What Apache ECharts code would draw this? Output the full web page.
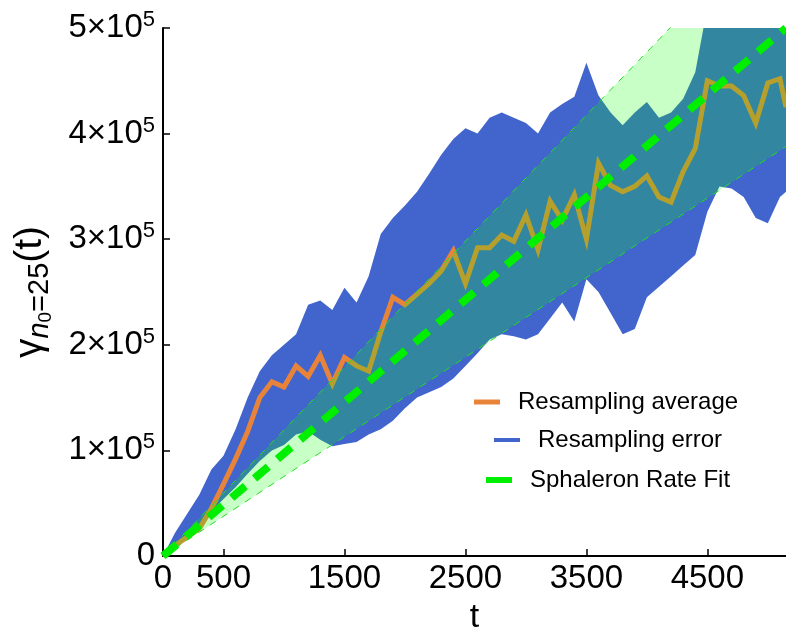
<!DOCTYPE html>
<html>
<head>
<meta charset="utf-8">
<script src="https://cdn.jsdelivr.net/npm/echarts@6/dist/echarts.min.js"></script>
<style>
  html, body { margin: 0; padding: 0; background: #ffffff; }
  #chart { width: 786px; height: 640px; }
</style>
</head>
<body>
<div id="chart"></div>
<script>
// Time samples
const tValues = [0,100,200,300,400,500,600,700,800,900,1000,1100,1200,1300,1400,1500,1600,1700,1800,1900,
  2000,2100,2200,2300,2400,2500,2600,2700,2800,2900,3000,3100,3200,3300,3400,3500,3600,3700,3800,3900,
  4000,4100,4200,4300,4400,4500,4600,4700,4800,4900,5000,5100,5150];

// Resampling average
const avgValues = [0,10000,18000,26000,45000,68000,92000,118000,150000,165000,160000,180000,170000,190000,163000,188000,180000,175000,212000,245000,
  238000,248000,258000,270000,289000,258000,292000,292000,304000,298000,323000,290000,336000,318000,342000,300000,372000,351000,345000,350000,
  360000,340000,335000,364000,386000,450000,445000,445000,436000,410000,448000,452000,425000];

// Resampling error band (upper / lower envelope)
const errUpper = [0,22000,40000,58000,82000,95000,120000,150000,175000,190000,200000,210000,238000,242000,233000,254000,240000,265000,305000,320000,
  332000,345000,362000,380000,395000,405000,400000,415000,420000,415000,410000,400000,420000,428000,435000,467000,436000,420000,408000,420000,
  430000,415000,420000,433000,458000,520000,530000,540000,550000,560000,570000,575000,580000];
const errLower = [0,8000,20000,30000,42000,54000,65000,78000,90000,100000,105000,115000,118000,110000,104000,106000,108000,115000,120000,128000,
  140000,150000,155000,160000,168000,180000,192000,205000,210000,208000,205000,210000,225000,240000,222000,262000,250000,230000,210000,215000,
  245000,255000,265000,275000,285000,326000,350000,348000,340000,320000,315000,340000,345000];

// Linear sphaleron-rate fit and its uncertainty band (end points)
const fitT = [0, 5150];
const fitY = [0, 500000];
const fitUpperY = [0, 614400];
const fitLowerY = [0, 387800];

// Axis ticks
const xTicks = [0, 500, 1500, 2500, 3500, 4500];
const yTicks = [0, 100000, 200000, 300000, 400000, 500000];

const NAME_AVG = 'Resampling average';
const NAME_ERR = 'Resampling error';
const NAME_FIT = 'Sphaleron Rate Fit';

const FONT = '"Liberation Sans", Arial, sans-serif';
const C_AVG = '#e8843a';
const C_ERR = '#4165cd';
const C_FIT = '#00ee00';

const pairs = (xs, ys) => xs.map((x, i) => [x, ys[i]]);

// Filled region between two curves, drawn once as a polygon in data coordinates
function bandSeries(name, xs, lows, highs, fill, z) {
  return {
    name: name,
    type: 'custom',
    coordinateSystem: 'cartesian2d',
    silent: true,
    z: z,
    itemStyle: { color: fill },
    data: xs.map((x, i) => [x, lows[i], highs[i]]),
    encode: { x: 0, y: [1, 2] },
    renderItem: (params, api) => {
      if (params.dataIndex !== 0) return null;
      const top = xs.map((x, i) => api.coord([x, highs[i]]));
      const bottom = xs.map((x, i) => api.coord([x, lows[i]])).reverse();
      const cs = params.coordSys;
      return {
        type: 'polygon',
        shape: { points: top.concat(bottom) },
        style: { fill: fill, stroke: null },
        clipPath: { type: 'rect', shape: { x: cs.x, y: cs.y, width: cs.width, height: cs.height } }
      };
    }
  };
}

const legendRow = (name, color, left, top, h) => ({
  show: true,
  left: left, top: top,
  padding: 0,
  itemWidth: 26,
  itemHeight: h,
  selectedMode: false,
  data: [{ name: name, icon: 'rect', itemStyle: { color: color, opacity: 1 } }],
  textStyle: { fontFamily: FONT, fontSize: 24, color: '#000', padding: [0, 0, 0, 13] }
});

const chart = echarts.init(document.getElementById('chart'), null, { renderer: 'canvas' });

const option = {
  animation: false,
  backgroundColor: '#ffffff',
  grid: { left: 163, right: 0, top: 28, bottom: 79, containLabel: false },
  legend: [
    legendRow(NAME_AVG, C_AVG, 474, 390, 5),
    legendRow(NAME_ERR, C_ERR, 494, 428, 4),
    legendRow(NAME_FIT, C_FIT, 486, 468, 6)
  ],
  xAxis: {
    type: 'value',
    min: 0, max: 5150,
    name: 't',
    nameLocation: 'middle',
    nameGap: 45,
    nameTextStyle: { fontFamily: FONT, fontSize: 34, color: '#000' },
    axisLine: { show: true, onZero: false, lineStyle: { color: '#000', width: 2 } },
    axisTick: { show: true, inside: true, length: 7, customValues: xTicks, lineStyle: { color: '#000', width: 1.5 } },
    axisLabel: { customValues: xTicks, formatter: v => String(v), fontFamily: FONT, fontSize: 33, color: '#000', margin: 6 },
    splitLine: { show: false }
  },
  yAxis: {
    type: 'value',
    min: 0, max: 500000,
    name: '{g|γ}{n|n}{z|0}{s|=25}{p|(t)}',
    nameLocation: 'middle',
    nameRotate: 90,
    nameGap: 108,
    nameTextStyle: {
      fontFamily: FONT, color: '#000',
      rich: {
        g: { fontFamily: FONT, fontSize: 39, color: '#000' },
        n: { fontFamily: FONT, fontSize: 29, fontStyle: 'italic', color: '#000', padding: [18, 0, 0, 0] },
        z: { fontFamily: FONT, fontSize: 19, color: '#000', padding: [30, 0, 0, 0] },
        s: { fontFamily: FONT, fontSize: 29, color: '#000', padding: [18, 0, 0, 0] },
        p: { fontFamily: FONT, fontSize: 39, color: '#000' }
      }
    },
    axisLine: { show: true, onZero: false, lineStyle: { color: '#000', width: 2 } },
    axisTick: { show: true, inside: true, length: 7, customValues: yTicks, lineStyle: { color: '#000', width: 1.5 } },
    axisLabel: {
      customValues: yTicks,
      margin: 8,
      formatter: v => v === 0 ? '{m|0}' : '{m|' + (v / 100000) + '×10}{e|5}',
      rich: {
        m: { fontFamily: FONT, fontSize: 33, color: '#000' },
        e: { fontFamily: FONT, fontSize: 22, color: '#000', verticalAlign: 'top', padding: [0, 0, 16, 0] }
      }
    },
    splitLine: { show: false }
  },
  series: [
    bandSeries(NAME_ERR, tValues, errLower, errUpper, C_ERR, 1),
    {
      name: NAME_AVG, type: 'line', symbol: 'none', silent: true,
      data: pairs(tValues, avgValues),
      lineStyle: { color: C_AVG, width: 5, join: 'miter' },
      itemStyle: { color: C_AVG }, z: 2
    },
    bandSeries('fitBand', fitT, fitLowerY, fitUpperY, 'rgba(0,255,0,0.22)', 3),
    {
      name: 'fitUpper', type: 'line', symbol: 'none', silent: true,
      data: pairs(fitT, fitUpperY),
      lineStyle: { color: '#22dd22', width: 1, type: [7, 7] }, z: 4
    },
    {
      name: 'fitLower', type: 'line', symbol: 'none', silent: true,
      data: pairs(fitT, fitLowerY),
      lineStyle: { color: '#22dd22', width: 1, type: [7, 7] }, z: 4
    },
    {
      name: NAME_FIT, type: 'line', symbol: 'none', silent: true,
      data: pairs(fitT, fitY),
      lineStyle: { color: C_FIT, width: 8, type: [18, 12] },
      itemStyle: { color: C_FIT }, z: 5
    }
  ]
};

chart.setOption(option);
</script>
</body>
</html>
